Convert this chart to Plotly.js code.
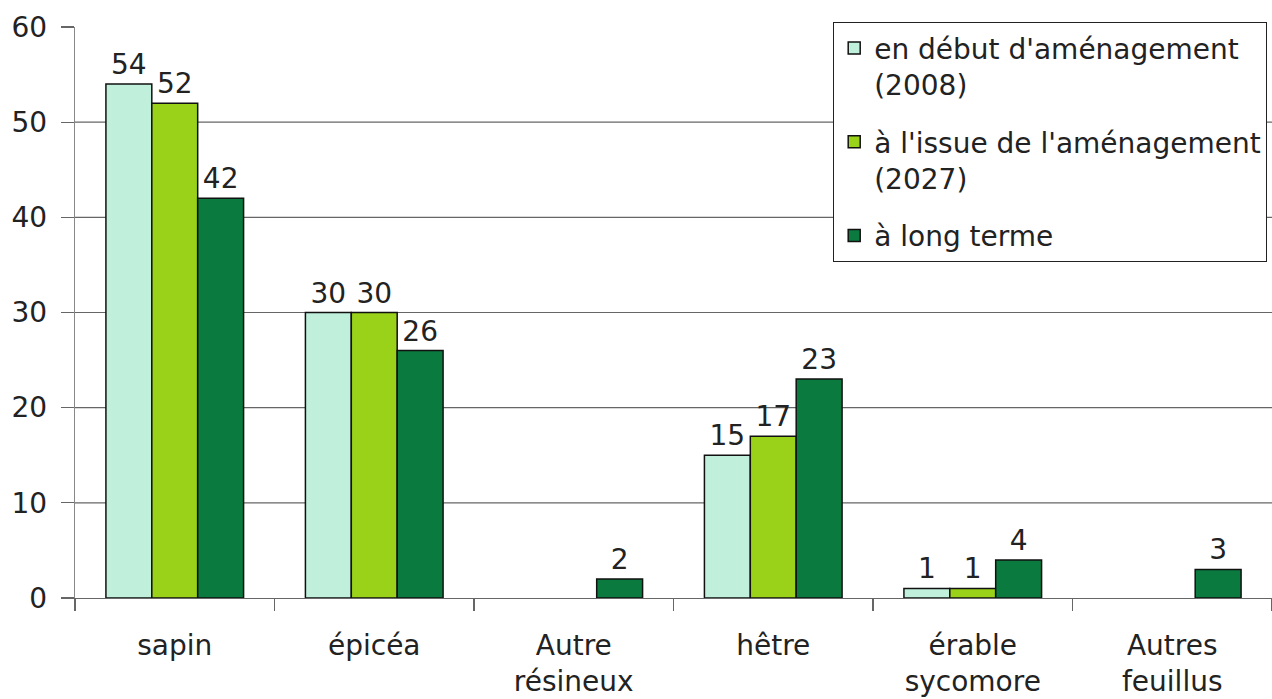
<!DOCTYPE html>
<html>
<head>
<meta charset="utf-8">
<script src="https://cdn.plot.ly/plotly-3.0.1.min.js"></script>
<style>html,body{margin:0;padding:0;background:#fff;}#chart{width:1272px;height:699px;}</style>
</head>
<body>
<div id="chart"></div>
<script>
const categories = ['sapin', 'épicéa', 'Autre<br>résineux', 'hêtre', 'érable<br>sycomore', 'Autres<br>feuillus'];
const seriesNames = ["en début d'aménagement<br>(2008)", "à l'issue de l'aménagement<br>(2027)", 'à long terme'];
const debut2008 = [54, 30, null, 15, 1, null];
const issue2027 = [52, 30, null, 17, 1, null];
const longTerme = [42, 26, 2, 23, 4, 3];
const yTicks = [0, 10, 20, 30, 40, 50, 60];
const gridValues = [10, 20, 30, 40, 50];

const colors = ['#c0f0dc', '#9ad21a', '#0b7a3e'];
const FONT = 'DejaVu Sans, Arial, sans-serif';
const FS = 28;

function mk(vals, i) {
  return {
    type: 'bar',
    name: seriesNames[i],
    x: categories,
    y: vals,
    text: vals.map(v => (v === null ? '' : String(v))),
    textposition: 'outside',
    cliponaxis: false,
    textfont: {family: FONT, size: FS, color: '#222'},
    marker: {color: colors[i], line: {color: '#111', width: 1.5}},
    legendgroup: 'g' + i,
    hoverinfo: 'x+y'
  };
}

const data = [mk(debut2008, 0), mk(issue2027, 1), mk(longTerme, 2)];

const shapes = gridValues.map(v => ({
  type: 'line', xref: 'paper', yref: 'y', x0: 0, x1: 1, y0: v, y1: v,
  line: {color: '#666', width: 1.2}, layer: 'below'
}));

const layout = {
  width: 1272, height: 699,
  margin: {l: 75, r: 0, t: 27, b: 101},
  paper_bgcolor: '#fff', plot_bgcolor: '#fff',
  font: {family: FONT, size: FS, color: '#222'},
  barmode: 'group',
  bargap: 0.31,
  bargroupgap: 0,
  showlegend: true,
  shapes: shapes,
  xaxis: {
    type: 'category',
    showgrid: false,
    showline: true, linecolor: '#666', linewidth: 1.2,
    ticks: 'outside', ticklen: 12, tickcolor: '#666', tickwidth: 1.2,
    tickson: 'boundaries',
    tickangle: 0,
    ticklabelstandoff: 22,
    tickfont: {family: FONT, size: FS, color: '#222'},
    zeroline: false,
    automargin: false
  },
  yaxis: {
    range: [0, 60],
    tickvals: yTicks,
    showgrid: false,
    zeroline: false,
    showline: true, linecolor: '#888', linewidth: 1.2,
    ticks: 'outside', ticklen: 13, tickcolor: '#666', tickwidth: 1.2,
    ticklabelstandoff: 8,
    tickfont: {family: FONT, size: FS, color: '#222'},
    automargin: false
  },
  legend: {
    x: (833 - 75) / 1197, y: 1 + 5 / 571, xanchor: 'left', yanchor: 'top',
    bgcolor: '#fff', bordercolor: '#222', borderwidth: 1.2,
    font: {family: FONT, size: FS, color: '#222'},
    tracegroupgap: 18,
    traceorder: 'grouped',
    valign: 'top',
    itemwidth: 30
  }
};

Plotly.newPlot('chart', data, layout, {displayModeBar: false, staticPlot: true});
</script>
</body>
</html>
